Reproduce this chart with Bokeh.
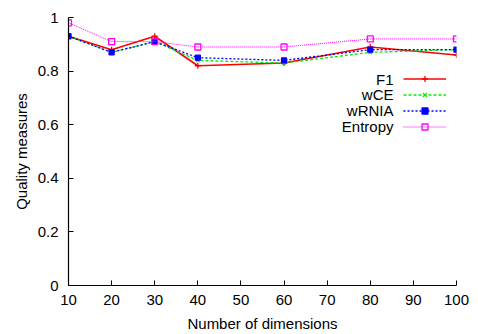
from bokeh.plotting import figure
from bokeh.models import FixedTicker, Range1d, Legend, LegendItem, Label
from bokeh.embed import file_html
from bokeh.resources import INLINE
from bokeh.core.properties import value

# ---- data ----
dims = [10, 20, 30, 40, 60, 80, 100]
f1 = [0.93, 0.88, 0.93, 0.82, 0.83, 0.89, 0.86]
wce = [0.93, 0.87, 0.91, 0.84, 0.83, 0.87, 0.88]
wrnia = [0.93, 0.87, 0.91, 0.85, 0.84, 0.88, 0.88]
entropy = [0.98, 0.91, 0.91, 0.89, 0.89, 0.92, 0.92]
series_names = ["F1", "wCE", "wRNIA", "Entropy"]
x_ticks = [10, 20, 30, 40, 50, 60, 70, 80, 90, 100]
y_ticks = [0, 0.2, 0.4, 0.6, 0.8, 1.0]
y_tick_labels = ["0", "0.2", "0.4", "0.6", "0.8", "1"]

FONT = "Liberation Sans"

p = figure(width=478, height=334, output_backend="svg", toolbar_location=None,
           x_range=Range1d(10, 100), y_range=Range1d(0, 1),
           min_border_left=68, min_border_right=22, min_border_top=17, min_border_bottom=49)
p.outline_line_color = None
p.grid.visible = False
p.background_fill_color = "white"

styles = [
    dict(data=f1, color="#ff0000", dash="solid", width=1.6, marker="cross", size=6, fill=True),
    dict(data=wce, color="#00ee00", dash="3 2", width=1.3, marker="x", size=5, fill=True),
    dict(data=wrnia, color="#0000ff", dash="2 2", width=1.3, marker="square", size=5, fill=True),
    dict(data=entropy, color="#ff00ff", dash="1 1", width=1.0, marker="square", size=6, fill=False),
]

items = []
for name, st in zip(series_names, styles):
    ln = p.line(dims, st["data"], line_color=st["color"], line_dash=st["dash"], line_width=st["width"])
    sc = p.scatter(dims, st["data"], marker=st["marker"], size=st["size"], line_color=st["color"],
                   fill_color=st["color"] if st["fill"] else None, line_width=1.3)
    items.append(LegendItem(label=value(""), renderers=[ln, sc]))

legend = Legend(items=items, location=(335, 151), glyph_width=43, glyph_height=15,
                label_height=15, label_width=0, label_standoff=0, spacing=1, padding=0, margin=0,
                border_line_alpha=0, background_fill_alpha=0, label_text_font_size="1px")
p.add_layout(legend, "center")

label_y = [206, 191, 175, 159]
for name, yy in zip(series_names, label_y):
    p.add_layout(Label(x=325, y=yy, x_units="screen", y_units="screen", text=name,
                       text_align="right", text_baseline="middle", text_font=FONT,
                       text_font_size="15px", text_color="black"))

for ax in (p.xaxis[0], p.yaxis[0]):
    ax.axis_line_color = "black"
    ax.axis_line_width = 1.2
    ax.major_tick_in = 5
    ax.major_tick_out = 0
    ax.minor_tick_line_color = None
    ax.major_tick_line_color = "black"
    ax.major_label_text_font = FONT
    ax.major_label_text_font_size = "15px"
    ax.major_label_text_color = "black"
    ax.axis_label_text_font = FONT
    ax.axis_label_text_font_size = "15px"
    ax.axis_label_text_font_style = "normal"
    ax.axis_label_text_color = "black"

p.xaxis.ticker = FixedTicker(ticks=x_ticks)
p.yaxis.ticker = FixedTicker(ticks=y_ticks)
p.yaxis.major_label_overrides = {t: l for t, l in zip(y_ticks, y_tick_labels)}
p.xaxis.axis_label = "Number of dimensions"
p.yaxis.axis_label = "Quality measures"
p.xaxis.major_label_standoff = 9
p.xaxis.axis_label_standoff = 7
p.yaxis.major_label_standoff = 10
p.yaxis.axis_label_standoff = 5

open("out.html", "w").write(file_html(p, INLINE))
